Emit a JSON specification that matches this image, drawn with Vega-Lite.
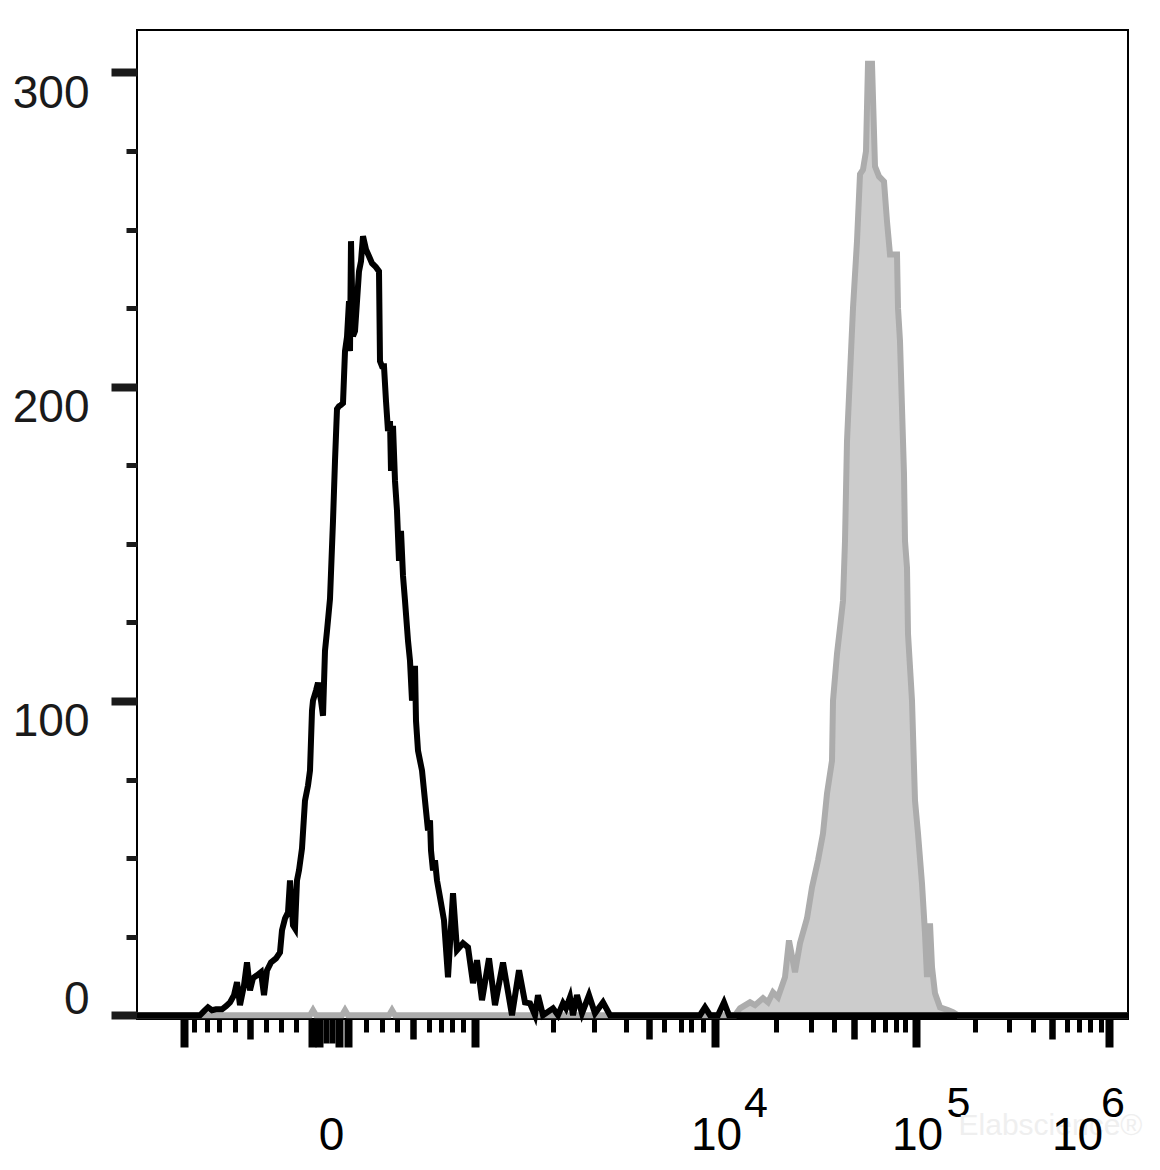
{
  "$schema": "https://vega.github.io/schema/vega-lite/v6.json",
  "width": 991,
  "height": 989,
  "autosize": "none",
  "padding": {"left": 137, "top": 30, "right": 32, "bottom": 151},
  "background": "white",
  "config": {
    "view": {"stroke": "#000000", "strokeWidth": 2},
    "font": "Liberation Sans",
    "axis": {"labelFont": "Liberation Sans", "titleFont": "Liberation Sans", "grid": false, "domain": false, "labelOverlap": false, "labelFlush": false, "labelBound": false}
  },
  "datasets": {
    "gray": [
      {"c": 0, "count": 0}, {"c": 173, "count": 0}, {"c": 176, "count": 1.6}, {"c": 179, "count": 0},
      {"c": 205, "count": 0}, {"c": 208, "count": 1.6}, {"c": 211, "count": 0},
      {"c": 252, "count": 0}, {"c": 255, "count": 1.6}, {"c": 258, "count": 0},
      {"c": 598, "count": 0}, {"c": 603, "count": 2.2}, {"c": 613, "count": 4.1}, {"c": 618, "count": 3.2},
      {"c": 626, "count": 5.4}, {"c": 631, "count": 4.1}, {"c": 636, "count": 7.3}, {"c": 641, "count": 5.7},
      {"c": 648, "count": 12.1}, {"c": 652, "count": 23.8}, {"c": 658, "count": 13.7}, {"c": 663, "count": 22.9},
      {"c": 670, "count": 30.8}, {"c": 675, "count": 40.7}, {"c": 681, "count": 49.3}, {"c": 686, "count": 57.8},
      {"c": 690, "count": 70.5}, {"c": 695, "count": 81.0}, {"c": 696, "count": 100.1}, {"c": 700, "count": 115.0},
      {"c": 703, "count": 123.3}, {"c": 706, "count": 131.9}, {"c": 708, "count": 150.9}, {"c": 710, "count": 182.7},
      {"c": 713, "count": 204.0}, {"c": 716, "count": 225.0}, {"c": 720, "count": 246.3}, {"c": 723, "count": 267.6},
      {"c": 726, "count": 269.1}, {"c": 729, "count": 274.9}, {"c": 731, "count": 302.8}, {"c": 735, "count": 302.8},
      {"c": 738, "count": 270.1}, {"c": 742, "count": 266.9}, {"c": 747, "count": 265.3}, {"c": 750, "count": 252.6},
      {"c": 753, "count": 242.1}, {"c": 760, "count": 242.1}, {"c": 761, "count": 225.0}, {"c": 763, "count": 214.5},
      {"c": 765, "count": 193.2}, {"c": 767, "count": 172.2}, {"c": 768, "count": 150.9}, {"c": 770, "count": 142.4},
      {"c": 771, "count": 121.4}, {"c": 775, "count": 100.1}, {"c": 778, "count": 68.3}, {"c": 781, "count": 57.8},
      {"c": 785, "count": 41.9}, {"c": 788, "count": 26.1}, {"c": 790, "count": 12.1}, {"c": 793, "count": 29.2},
      {"c": 795, "count": 15.3}, {"c": 798, "count": 7.0}, {"c": 803, "count": 2.5}, {"c": 811, "count": 1.6},
      {"c": 816, "count": 1.0}, {"c": 821, "count": 0}, {"c": 991, "count": 0}
    ],
    "black": [
      {"c": 0, "count": 0}, {"c": 63, "count": 0}, {"c": 67, "count": 1.3}, {"c": 71, "count": 2.5}, {"c": 75, "count": 1.6},
      {"c": 79, "count": 1.9}, {"c": 85, "count": 1.9}, {"c": 89, "count": 2.9}, {"c": 93, "count": 4.1}, {"c": 97, "count": 6.4},
      {"c": 100, "count": 10.5}, {"c": 103, "count": 3.2}, {"c": 107, "count": 9.5}, {"c": 110, "count": 16.8}, {"c": 113, "count": 7.9},
      {"c": 116, "count": 11.8}, {"c": 120, "count": 12.7}, {"c": 124, "count": 13.7}, {"c": 127, "count": 6.4}, {"c": 130, "count": 14.3},
      {"c": 134, "count": 16.8}, {"c": 139, "count": 18.1}, {"c": 143, "count": 20.0}, {"c": 145, "count": 27.0}, {"c": 148, "count": 30.8},
      {"c": 151, "count": 32.7}, {"c": 153, "count": 42.9}, {"c": 156, "count": 28.6}, {"c": 158, "count": 27.6}, {"c": 160, "count": 42.9},
      {"c": 162, "count": 46.1}, {"c": 165, "count": 53.1}, {"c": 168, "count": 68.3}, {"c": 171, "count": 73.1}, {"c": 173, "count": 77.9},
      {"c": 175, "count": 96.9}, {"c": 176, "count": 100.1}, {"c": 179, "count": 103.3}, {"c": 181, "count": 105.8}, {"c": 184, "count": 100.1},
      {"c": 186, "count": 95.3}, {"c": 188, "count": 116.0}, {"c": 190, "count": 122.3}, {"c": 193, "count": 132.5}, {"c": 196, "count": 157.3},
      {"c": 198, "count": 176.4}, {"c": 200, "count": 192.9}, {"c": 202, "count": 193.8}, {"c": 204, "count": 194.2}, {"c": 206, "count": 194.8},
      {"c": 208, "count": 211.3}, {"c": 210, "count": 215.8}, {"c": 212, "count": 227.2}, {"c": 213, "count": 211.3}, {"c": 214, "count": 246.3},
      {"c": 216, "count": 216.1}, {"c": 218, "count": 217.7}, {"c": 220, "count": 227.2}, {"c": 222, "count": 236.7}, {"c": 224, "count": 239.9},
      {"c": 226, "count": 247.9}, {"c": 229, "count": 243.7}, {"c": 232, "count": 241.5}, {"c": 235, "count": 239.3}, {"c": 239, "count": 238.0},
      {"c": 242, "count": 236.7}, {"c": 243, "count": 208.1}, {"c": 245, "count": 206.5}, {"c": 247, "count": 206.5}, {"c": 249, "count": 195.4},
      {"c": 251, "count": 185.9}, {"c": 253, "count": 189.1}, {"c": 254, "count": 173.2}, {"c": 256, "count": 187.5}, {"c": 258, "count": 170.0},
      {"c": 260, "count": 160.5}, {"c": 262, "count": 144.6}, {"c": 264, "count": 154.1}, {"c": 266, "count": 139.8}, {"c": 268, "count": 131.9},
      {"c": 271, "count": 119.2}, {"c": 273, "count": 112.8}, {"c": 275, "count": 100.1}, {"c": 276, "count": 103.3}, {"c": 278, "count": 111.2},
      {"c": 279, "count": 93.7}, {"c": 281, "count": 84.2}, {"c": 283, "count": 81.0}, {"c": 285, "count": 77.9}, {"c": 288, "count": 68.3},
      {"c": 291, "count": 58.8}, {"c": 293, "count": 62.0}, {"c": 294, "count": 52.4}, {"c": 296, "count": 46.1}, {"c": 298, "count": 49.3},
      {"c": 300, "count": 42.9}, {"c": 303, "count": 37.5}, {"c": 307, "count": 30.2}, {"c": 311, "count": 12.1}, {"c": 316, "count": 38.8},
      {"c": 320, "count": 20.7}, {"c": 326, "count": 22.9}, {"c": 331, "count": 21.6}, {"c": 336, "count": 10.2}, {"c": 340, "count": 17.5},
      {"c": 345, "count": 4.8}, {"c": 352, "count": 18.1}, {"c": 358, "count": 3.2}, {"c": 366, "count": 16.8}, {"c": 375, "count": 0},
      {"c": 382, "count": 14.3}, {"c": 388, "count": 4.1}, {"c": 393, "count": 3.8}, {"c": 398, "count": 0}, {"c": 401, "count": 6.4},
      {"c": 406, "count": 0}, {"c": 416, "count": 2.2}, {"c": 421, "count": 0}, {"c": 426, "count": 3.8}, {"c": 429, "count": 2.2},
      {"c": 433, "count": 5.7}, {"c": 436, "count": 0}, {"c": 440, "count": 6.4}, {"c": 445, "count": 0.6}, {"c": 452, "count": 6.4},
      {"c": 458, "count": 0.6}, {"c": 466, "count": 4.1}, {"c": 473, "count": 0}, {"c": 563, "count": 0}, {"c": 568, "count": 2.5},
      {"c": 573, "count": 0}, {"c": 581, "count": 0}, {"c": 587, "count": 4.1}, {"c": 592, "count": 0}, {"c": 991, "count": 0}
    ]
  },
  "encoding": {
    "y": {
      "field": "count",
      "type": "quantitative",
      "scale": {"domain": [-1.2, 313.5], "nice": false, "zero": false},
      "axis": {
        "orient": "left",
        "title": null,
        "values": [0, 25, 50, 75, 100, 125, 150, 175, 200, 225, 250, 275, 300],
        "tickColor": "#1a1a1a",
        "tickSize": {"condition": {"test": "datum.value % 100 == 0", "value": 26}, "value": 11},
        "tickWidth": {"condition": {"test": "datum.value % 100 == 0", "value": 8}, "value": 5},
        "labelExpr": "datum.value % 100 == 0 ? datum.label : ''",
        "labelFontSize": 46,
        "labelColor": "#1a1a1a",
        "labelPadding": 22,
        "labelAlign": "right",
        "labelBaseline": "alphabetic",
        "labelOffset": {"condition": {"test": "datum.value == 0", "value": -1.5}, "value": 35}
      }
    }
  },
  "layer": [
    {
      "data": {"name": "gray"},
      "mark": {"type": "area", "color": "#cccccc", "interpolate": "linear"},
      "encoding": {
        "x": {
          "field": "c",
          "type": "quantitative",
          "scale": {"domain": [0, 991], "nice": false, "zero": false},
          "axis": {
            "orient": "bottom",
            "title": null,
            "labels": false,
            "ticks": true,
            "tickColor": "#000000",
            "values": [47, 175, 182, 202, 211, 338, 578, 779, 972, 189, 195, 113, 276, 512, 717, 915, 57, 70, 82, 98, 129, 144, 159, 229, 245, 260, 292, 304, 315, 326, 416, 457, 489, 527, 544, 554, 566, 639, 674, 697, 736, 748, 759, 768, 838, 872, 896, 930, 942, 953, 964],
            "tickSize": {
              "condition": [
                {"test": "indexof([47,175,182,202,211,338,578,779,972], datum.value) >= 0", "value": 28},
                {"test": "indexof([189,195], datum.value) >= 0", "value": 24},
                {"test": "indexof([113,276,512,717,915], datum.value) >= 0", "value": 20}
              ],
              "value": 13
            },
            "tickWidth": {
              "condition": [
                {"test": "indexof([47,175,182,202,211,338,578,779,972], datum.value) >= 0", "value": 8},
                {"test": "indexof([189,195], datum.value) >= 0", "value": 6},
                {"test": "indexof([113,276,512,717,915], datum.value) >= 0", "value": 6.5}
              ],
              "value": 5
            }
          }
        }
      }
    },
    {
      "data": {"name": "gray"},
      "mark": {"type": "line", "color": "#acacac", "strokeWidth": 6, "interpolate": "linear"},
      "encoding": {
        "x": {
          "field": "c",
          "type": "quantitative",
          "scale": {"domain": [0, 991], "nice": false, "zero": false},
          "axis": {
            "orient": "bottom",
            "values": [578, 779, 972],
            "ticks": false,
            "tickSize": 0,
            "labelExpr": "datum.value == 578 ? '4' : datum.value == 779 ? '5' : '6'",
            "labelFontSize": 43,
            "labelColor": "#000000",
            "labelBaseline": "alphabetic",
            "labelAlign": "center",
            "labelPadding": 97,
            "labelOffset": {
              "condition": [
                {"test": "datum.value == 578", "value": 40.5},
                {"test": "datum.value == 779", "value": 42}
              ],
              "value": 3.5
            },
            "title": "Elabscience®",
            "titleX": 913,
            "titleY": 106,
            "titleColor": "#efefef",
            "titleFontSize": 30,
            "titleFontWeight": "normal",
            "titleBaseline": "middle",
            "titleAlign": "center",
            "titleAngle": 0
          }
        }
      }
    },
    {
      "data": {"name": "black"},
      "mark": {"type": "line", "color": "#000000", "strokeWidth": 6, "interpolate": "linear"},
      "encoding": {
        "x": {
          "field": "c",
          "type": "quantitative",
          "scale": {"domain": [0, 991], "nice": false, "zero": false},
          "axis": {
            "orient": "bottom",
            "title": null,
            "values": [193, 578, 779, 972],
            "ticks": false,
            "tickSize": 0,
            "labelExpr": "datum.value == 193 ? '0' : '10'",
            "labelFontSize": 46,
            "labelColor": "#000000",
            "labelBaseline": "alphabetic",
            "labelAlign": "center",
            "labelPadding": 130,
            "labelOffset": {"condition": {"test": "datum.value == 972", "value": -32}, "value": 1}
          }
        }
      }
    }
  ],
  "resolve": {"axis": {"x": "independent"}}
}
